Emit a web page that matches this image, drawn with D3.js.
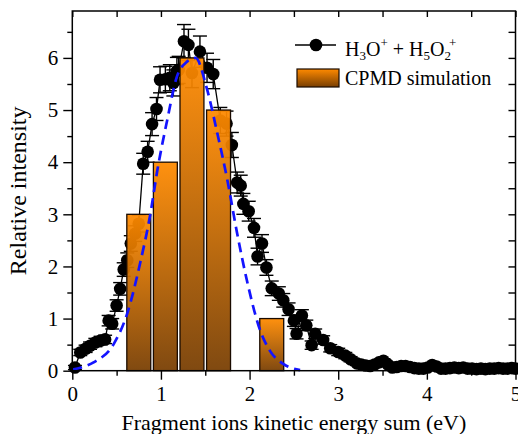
<!DOCTYPE html>
<html><head><meta charset="utf-8">
<script src="https://cdn.jsdelivr.net/npm/d3@7"></script>
<style>body{margin:0;background:#fff}svg{display:block}text{font-family:"Liberation Serif","Times New Roman",serif;fill:#000}</style>
</head><body><svg id="c" width="518" height="434"></svg>
<script>
// Experimental data: fragment ions kinetic energy sum (eV), relative intensity, error
const expX = [0.03,0.09,0.15,0.20,0.26,0.32,0.37,0.41,0.45,0.50,0.54,0.58,0.62,0.66,0.71,0.75,0.80,0.85,0.90,0.95,0.99,1.05,1.10,1.14,1.18,1.20,1.26,1.31,1.35,1.44,1.52,1.59,1.67,1.74,1.80,1.86,1.90,1.93,1.99,2.05,2.09,2.14,2.19,2.25,2.33,2.38,2.44,2.50,2.53,2.59,2.64,2.70,2.74,2.83,2.91,3.00,3.08,3.14,3.21,3.26,3.31,3.36,3.41,3.46,3.51,3.56,3.61,3.66,3.71,3.76,3.81,3.86,3.91,3.96,4.01,4.06,4.11,4.16,4.21,4.26,4.31,4.36,4.41,4.46,4.51,4.56,4.61,4.66,4.71,4.76,4.81,4.86,4.91,4.96,5.00];
const expY = [0.06,0.35,0.42,0.48,0.54,0.58,0.60,0.96,0.90,1.25,1.57,1.94,2.12,2.44,2.63,2.82,3.97,4.20,4.73,5.02,5.58,5.59,5.62,5.52,5.75,5.77,6.32,6.25,5.71,6.12,5.81,5.69,4.80,4.74,4.33,3.61,3.55,3.20,3.06,2.74,2.19,2.44,1.98,1.58,1.48,1.35,1.18,0.96,0.71,1.06,0.87,0.49,0.71,0.59,0.43,0.36,0.29,0.22,0.14,0.12,0.10,0.09,0.12,0.16,0.19,0.12,0.06,0.07,0.09,0.09,0.07,0.05,0.04,0.04,0.06,0.11,0.08,0.04,0.04,0.05,0.06,0.05,0.06,0.04,0.04,0.03,0.04,0.03,0.04,0.04,0.05,0.04,0.04,0.05,0.04];
const expErr = [0.04,0.06,0.07,0.07,0.08,0.08,0.08,0.10,0.10,0.11,0.12,0.13,0.14,0.15,0.15,0.16,0.20,0.20,0.22,0.22,0.25,0.25,0.25,0.25,0.26,0.26,0.32,0.30,0.28,0.30,0.28,0.28,0.25,0.24,0.24,0.20,0.20,0.20,0.19,0.18,0.16,0.17,0.15,0.14,0.13,0.13,0.12,0.11,0.10,0.11,0.10,0.08,0.09,0.08,0.07,0.07,0.06,0.05,0.04,0.04,0.04,0.04,0.04,0.04,0.04,0.04,0.03,0.03,0.03,0.03,0.03,0.03,0.03,0.03,0.03,0.03,0.03,0.03,0.03,0.03,0.03,0.03,0.03,0.03,0.03,0.03,0.03,0.03,0.03,0.03,0.03,0.03,0.03,0.03,0.03];
// CPMD simulation histogram
const simCenters = [0.75,1.05,1.35,1.65,2.25];
const simValues = [3,4,6,5,1];
const simWidth = 0.27;
// Dashed fit curve
const fitX = [0.00,0.10,0.24,0.47,0.62,0.77,0.88,0.96,1.07,1.18,1.29,1.39,1.52,1.63,1.75,1.86,1.97,2.12,2.23,2.38,2.57];
const fitY = [0.02,0.06,0.16,0.52,1.10,2.10,3.00,3.85,4.80,5.64,5.92,6.00,5.40,4.60,3.65,2.63,1.73,0.77,0.38,0.13,0.01];
const xTicks = [0,1,2,3,4,5];
const yTicks = [0,1,2,3,4,5,6];

const svg = d3.select("#c");
const L=72.3,R=515.5,T=11,B=370.7;
const x = d3.scaleLinear().domain([0,5]).range([L,R]);
const y = d3.scaleLinear().domain([0,6.9]).range([B,T]);

const defs = svg.append("defs");
const g2 = defs.append("linearGradient").attr("id","bgv").attr("gradientUnits","objectBoundingBox").attr("x1",0).attr("y1",0).attr("x2",0).attr("y2",1);
g2.append("stop").attr("offset","0%").attr("stop-color","#ff8a00");
g2.append("stop").attr("offset","100%").attr("stop-color","#783e02");

// line connecting points
const pts = expX.map((v,i)=>({x:v,y:expY[i],e:expErr[i]}));
svg.append("path").datum(pts).attr("fill","none").attr("stroke","#000").attr("stroke-width",1.3)
  .attr("d",d3.line().x(d=>x(d.x)).y(d=>y(d.y)));
// error bars
const eb = svg.append("g").attr("stroke","#000").attr("stroke-width",1.4);
pts.forEach(d=>{
  eb.append("line").attr("x1",x(d.x)).attr("x2",x(d.x)).attr("y1",y(d.y+d.e)).attr("y2",y(Math.max(0,d.y-d.e)));
  eb.append("line").attr("x1",x(d.x)-7).attr("x2",x(d.x)+7).attr("y1",y(d.y+d.e)).attr("y2",y(d.y+d.e));
  eb.append("line").attr("x1",x(d.x)-7).attr("x2",x(d.x)+7).attr("y1",y(Math.max(0,d.y-d.e))).attr("y2",y(Math.max(0,d.y-d.e)));
});
svg.append("g").selectAll("circle").data(pts).join("circle")
  .attr("cx",d=>x(d.x)).attr("cy",d=>y(d.y)).attr("r",6.3).attr("fill","#000");

// bars
svg.append("g").selectAll("rect").data(simCenters).join("rect")
  .attr("x",(d)=>x(d-simWidth/2)).attr("width",(d)=>x(d+simWidth/2)-x(d-simWidth/2))
  .attr("y",(d,i)=>y(simValues[i])).attr("height",(d,i)=>y(0)-y(simValues[i]))
  .attr("fill","url(#bgv)").attr("fill-opacity",0.94).attr("stroke","#1a0b00").attr("stroke-width",1.3);

// fit curve
svg.append("path").datum(fitX.map((v,i)=>[v,fitY[i]])).attr("fill","none").attr("stroke","#1414ff")
  .attr("stroke-width",2.7).attr("stroke-dasharray","10,6")
  .attr("d",d3.line().curve(d3.curveMonotoneX).x(d=>x(d[0])).y(d=>y(d[1])));

// frame & axes
svg.append("rect").attr("x",L).attr("y",T).attr("width",R-L).attr("height",B-T).attr("fill","none").attr("stroke","#000").attr("stroke-width",1.5);
const xAxis = d3.axisBottom(x).tickValues(xTicks).tickSize(9).tickPadding(6).tickFormat(d3.format("d"));
const gx = svg.append("g").attr("transform",`translate(0,${B})`).call(xAxis);
const yAxis = d3.axisLeft(y).tickValues(yTicks).tickSize(9).tickPadding(5).tickFormat(d3.format("d"));
const gy = svg.append("g").attr("transform",`translate(${L},0)`).call(yAxis);
[gx,gy].forEach(a=>{a.select(".domain").remove();a.selectAll("line").attr("stroke-width",1.4);a.selectAll("text").attr("font-size",21).attr("font-family","Liberation Serif");});
const minorX = d3.range(0.5,5,1), minorY = d3.range(0.5,6.9,1);
svg.append("g").attr("transform",`translate(0,${B})`).call(d3.axisBottom(x).tickValues(minorX).tickSize(5).tickFormat("")).call(a=>a.select(".domain").remove()).selectAll("line").attr("stroke-width",1.4);
svg.append("g").attr("transform",`translate(${L},0)`).call(d3.axisLeft(y).tickValues(minorY).tickSize(5).tickFormat("")).call(a=>a.select(".domain").remove()).selectAll("line").attr("stroke-width",1.4);
// mirrored ticks top/right (inward)
svg.append("g").attr("transform",`translate(0,${T})`).call(d3.axisBottom(x).tickValues(xTicks.concat(minorX)).tickSize(6).tickFormat("")).call(a=>a.select(".domain").remove()).selectAll("line").attr("stroke-width",1.4);
svg.append("g").attr("transform",`translate(${R},0)`).call(d3.axisLeft(y).tickValues(yTicks.concat(minorY)).tickSize(7).tickFormat("")).call(a=>a.select(".domain").remove()).selectAll("line").attr("stroke-width",1.4);

// titles
svg.append("text").attr("x",(L+R)/2).attr("y",430).attr("text-anchor","middle").attr("font-size",22).text("Fragment ions kinetic energy sum (eV)");
svg.append("text").attr("transform",`translate(26,${(T+B)/2}) rotate(-90)`).attr("text-anchor","middle").attr("font-size",24).text("Relative intensity");

// legend
const lg = svg.append("g");
lg.append("line").attr("x1",295).attr("x2",336).attr("y1",45).attr("y2",45).attr("stroke","#000").attr("stroke-width",1.4);
lg.append("circle").attr("cx",316).attr("cy",45).attr("r",6.3).attr("fill","#000");
const t1 = lg.append("text").attr("x",345).attr("y",56).attr("font-size",20);
t1.append("tspan").text("H");
t1.append("tspan").attr("font-size",13).attr("dy",4).text("3");
t1.append("tspan").attr("dy",-4).text("O");
t1.append("tspan").attr("font-size",13).attr("dy",-9).text("+");
t1.append("tspan").attr("dy",9).text(" + H");
t1.append("tspan").attr("font-size",13).attr("dy",4).text("5");
t1.append("tspan").attr("dy",-4).text("O");
t1.append("tspan").attr("font-size",13).attr("dy",4).text("2");
t1.append("tspan").attr("font-size",13).attr("dy",-13).attr("dx",-2).text("+");
lg.append("rect").attr("x",297).attr("y",69).attr("width",42).attr("height",18).attr("fill","url(#bgv)").attr("stroke","#1a0b00").attr("stroke-width",1.2);
lg.append("text").attr("x",345).attr("y",85).attr("font-size",20).text("CPMD simulation");
</script></body></html>
